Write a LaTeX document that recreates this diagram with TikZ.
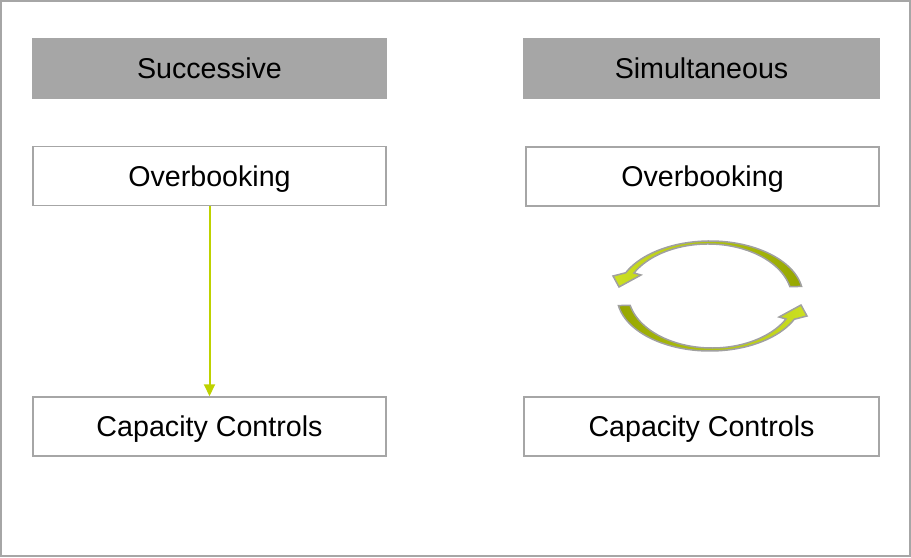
\documentclass[tikz,border=0pt]{standalone}
\usepackage{fontspec}
\setmainfont{Liberation Sans}
\usepackage{tikz}
\usetikzlibrary{arrows.meta,positioning}
\definecolor{boxgray}{RGB}{166,166,166}
\definecolor{arrowgreen}{RGB}{190,210,0}
\definecolor{darkolive}{RGB}{150,166,0}
\definecolor{lightolive}{RGB}{204,224,34}
\definecolor{rimgray}{RGB}{160,160,160}
% one half of the cycle symbol, drawn twice
\newcommand{\cyclehalf}{([shift={(10:93 and 55)}]710,261) arc[start angle=10, end angle=155, x radius=93, y radius=55]
  -- (613,281) -- (619,270) -- (641,282)
  -- ([shift={(151.8:84 and 55)}]708,258) arc[start angle=151.8, end angle=13, x radius=84, y radius=55] -- cycle}

\begin{document}
\begin{tikzpicture}[x=0.02cm,y=0.02cm]

    \tikzstyle{every node}=[font=\fontsize{16.3}{19.5}\selectfont, minimum width=7.06cm, minimum height=1.18cm, inner sep=0pt, text height=11.7pt, text depth=0pt, line width=0.03cm, draw=boxgray]
    \tikzstyle{header}=[fill=boxgray]
    \tikzstyle{box}=[fill=white]
    \tikzstyle{cycle arrow}=[draw=rimgray, line width=0.03cm]

    \useasboundingbox (0,0) rectangle (911,557);
    \draw[boxgray, line width=0.04cm] (1,1) rectangle (910,556);

    \node[header] (succ) at (209.5,488.5) {Successive};
    \node[header, minimum width=7.1cm] (simul) at (701.5,488.5) {Simultaneous};
    \node[box] (over1) at (209.5,381) {Overbooking};
    \node[box] (over2) at (702.5,380.5) {Overbooking};
    \node[box] (cap1) at (209.5,130.5) {Capacity Controls};
    \node[box, minimum width=7.1cm] (cap2) at (701.5,130.5) {Capacity Controls};

    \draw[arrowgreen, line width=0.04cm, -{Triangle[width=0.22cm,length=0.24cm]}] (over1) -- (cap1);

    \path[cycle arrow, left color=lightolive, right color=darkolive] \cyclehalf;
    \path[cycle arrow, left color=darkolive, right color=lightolive, rotate around={180:(710,261)}] \cyclehalf;
 \end{tikzpicture}
\end{document}
